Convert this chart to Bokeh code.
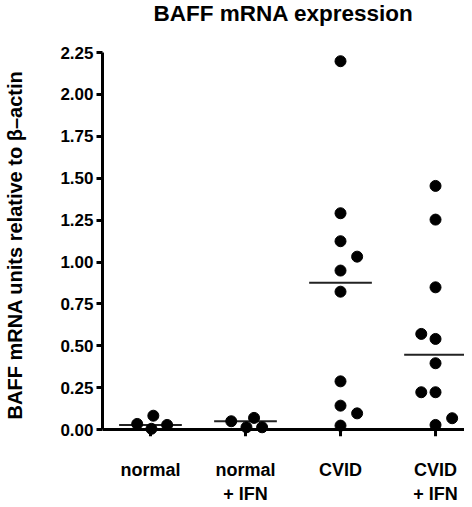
from bokeh.plotting import figure
from bokeh.models import Range1d, FixedTicker, LinearAxis, ColumnDataSource, Span
from bokeh.embed import file_html
from bokeh.resources import INLINE

# ---- data ----
title_text = "BAFF mRNA expression"
groups = ["normal", "normal + IFN", "CVID", "CVID + IFN"]
label_line1 = ["normal", "normal", "CVID", "CVID"]
label_line2 = ["", "+ IFN", "", "+ IFN"]

normal = [0.034, 0.083, 0.005, 0.028]
normal_jitter = [-0.14, 0.03, 0.01, 0.175]

normal_ifn = [0.050, 0.070, 0.014, 0.014]
normal_ifn_jitter = [-0.15, 0.09, 0.01, 0.175]

cvid = [2.198, 1.291, 1.124, 1.032, 0.949, 0.823, 0.288, 0.143, 0.097, 0.024]
cvid_jitter = [0.0, 0.0, 0.0, 0.175, 0.0, 0.0, 0.0, 0.0, 0.175, 0.0]

cvid_ifn = [1.454, 1.253, 0.849, 0.571, 0.541, 0.396, 0.223, 0.223, 0.068, 0.028]
cvid_ifn_jitter = [0.0, 0.0, 0.0, -0.15, 0.0, 0.0, -0.15, 0.0, 0.175, 0.0]

medians = [0.028, 0.050, 0.877, 0.447]

y_ticks = [0.0, 0.25, 0.5, 0.75, 1.0, 1.25, 1.5, 1.75, 2.0, 2.25]

# ---- build sources ----
series = [normal, normal_ifn, cvid, cvid_ifn]
jitters = [normal_jitter, normal_ifn_jitter, cvid_jitter, cvid_ifn_jitter]
xs, ys = [], []
for gi, (vals, jit) in enumerate(zip(series, jitters)):
    for v, j in zip(vals, jit):
        xs.append(gi + j)
        ys.append(v)
pts = ColumnDataSource(dict(x=xs, y=ys))

half = 0.33
cat_x = list(range(len(groups)))
med = ColumnDataSource(dict(
    x0=[i - half for i in cat_x],
    x1=[i + half for i in cat_x],
    y=medians,
))
tick_len = 0.04
ticks_src = ColumnDataSource(dict(x=cat_x, y0=[0.0] * len(cat_x),
                                  y1=[-tick_len] * len(cat_x)))

FONT = "Liberation Sans"

p = figure(frame_width=362, frame_height=385,
           x_range=Range1d(-0.505, 3.305), y_range=Range1d(-0.047, 2.25),
           output_backend="svg", toolbar_location=None,
           min_border_left=102, min_border_right=0, min_border_top=52,
           min_border_bottom=0)
p.outline_line_color = None
p.xgrid.visible = False
p.ygrid.visible = False
p.background_fill_color = "white"
p.border_fill_color = "white"

# a blank second line keeps the title text near the top of its panel
p.title.text = title_text + "\n "
p.title.align = "center"
p.title.vertical_align = "top"
p.title.standoff = 0
p.title.text_line_height = 1.0
p.title.text_font = FONT
p.title.text_font_size = "22.5px"
p.title.text_font_style = "bold"
p.title.text_color = "black"

# y axis
ya = p.yaxis[0]
ya.ticker = FixedTicker(ticks=y_ticks)
ya.major_label_overrides = {t: f"{t:.2f}" for t in y_ticks}
ya.bounds = (0, 2.25)
ya.minor_tick_line_color = None
ya.major_tick_in = 0
ya.major_tick_out = 6
ya.major_tick_line_width = 3
ya.axis_line_width = 3
ya.major_label_standoff = 3
ya.major_label_text_font = FONT
ya.major_label_text_font_size = "17px"
ya.major_label_text_font_style = "bold"
ya.major_label_text_color = "black"
ya.axis_label = "BAFF mRNA units relative to \u03b2\u2013actin"
ya.axis_label_text_font = FONT
ya.axis_label_text_font_size = "20px"
ya.axis_label_text_font_style = "bold"
ya.axis_label_text_color = "black"
ya.axis_label_standoff = 31

# x axis line at y = 0 and its ticks
p.add_layout(Span(location=0, dimension="width", line_color="black", line_width=3))
p.segment(x0="x", x1="x", y0="y0", y1="y1", source=ticks_src,
          line_color="black", line_width=3)

# x labels, first line
xa = p.xaxis[0]
xa.ticker = FixedTicker(ticks=cat_x)
xa.major_label_overrides = {i: t for i, t in enumerate(label_line1)}
xa.axis_line_color = None
xa.major_tick_line_color = None
xa.minor_tick_line_color = None
xa.major_tick_in = 0
xa.major_tick_out = 0
xa.major_label_standoff = 22
xa.major_label_text_font = FONT
xa.major_label_text_font_size = "18px"
xa.major_label_text_font_style = "bold"
xa.major_label_text_color = "black"

# x labels, second line
xa2 = LinearAxis(ticker=FixedTicker(ticks=[i for i, t in enumerate(label_line2) if t]),
                 major_label_overrides={i: t for i, t in enumerate(label_line2) if t})
xa2.axis_line_color = None
xa2.major_tick_line_color = None
xa2.minor_tick_line_color = None
xa2.major_tick_in = 0
xa2.major_tick_out = 0
xa2.major_label_standoff = 1
xa2.major_label_text_font = FONT
xa2.major_label_text_font_size = "18px"
xa2.major_label_text_font_style = "bold"
xa2.major_label_text_color = "black"
p.add_layout(xa2, "below")

p.segment(x0="x0", x1="x1", y0="y", y1="y", source=med,
          line_color="#222222", line_width=2)
p.scatter(x="x", y="y", source=pts, size=11, marker="circle",
          fill_color="black", line_color="black")

open("out.html", "w").write(file_html(p, INLINE))
